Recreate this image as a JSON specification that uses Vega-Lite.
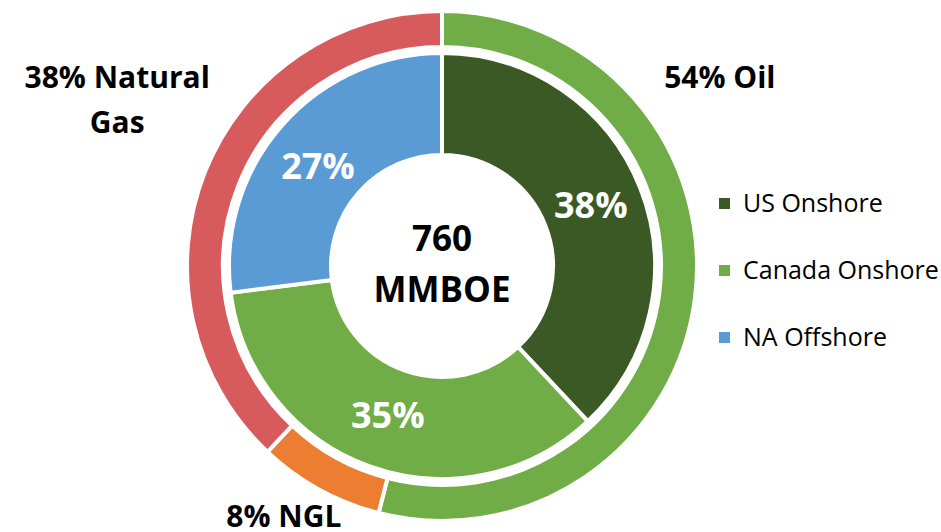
{
  "$schema": "https://vega.github.io/schema/vega-lite/v6.json",
  "width": 884,
  "height": 532,
  "autosize": {"type": "none"},
  "padding": {"left": 0, "top": 0, "right": 57, "bottom": 0},
  "background": "white",
  "config": {
    "view": {"stroke": null},
    "text": {"font": "Open Sans"}
  },
  "datasets": {
    "inner": [
      {"region": "US Onshore", "share": 0.38, "rank": 1},
      {"region": "Canada Onshore", "share": 0.35, "rank": 2},
      {"region": "NA Offshore", "share": 0.27, "rank": 3}
    ],
    "outer": [
      {"product": "Oil", "share": 0.54, "rank": 1, "label": "54% Oil"},
      {"product": "NGL", "share": 0.08, "rank": 2, "label": "8% NGL"},
      {"product": "Natural Gas", "share": 0.38, "rank": 3, "label": "38% Natural\nGas"}
    ],
    "total": [{"label": "760\nMMBOE"}]
  },
  "layer": [
    {
      "data": {"name": "outer"},
      "mark": {"type": "arc", "outerRadius": 255, "innerRadius": 219, "stroke": "white", "strokeWidth": 4},
      "encoding": {
        "theta": {"field": "share", "type": "quantitative", "stack": true},
        "order": {"field": "rank", "type": "quantitative"},
        "color": {
          "field": "product",
          "type": "nominal",
          "scale": {"domain": ["Oil", "NGL", "Natural Gas"], "range": ["#70AD47", "#ED7D31", "#D75B5D"]},
          "legend": null
        }
      }
    },
    {
      "data": {"name": "inner"},
      "mark": {"type": "arc", "outerRadius": 213, "innerRadius": 111, "stroke": "white", "strokeWidth": 4},
      "encoding": {
        "theta": {"field": "share", "type": "quantitative", "stack": true},
        "order": {"field": "rank", "type": "quantitative"},
        "color": {
          "field": "region",
          "type": "nominal",
          "scale": {"domain": ["US Onshore", "Canada Onshore", "NA Offshore"], "range": ["#3A5924", "#70AD47", "#5B9BD5"]},
          "legend": {
            "orient": "none",
            "legendX": 712,
            "legendY": 191,
            "title": null,
            "symbolType": "square",
            "symbolSize": 121,
            "symbolStrokeWidth": 0,
            "labelFont": "Open Sans",
            "labelFontSize": 25,
            "labelColor": "#000000",
            "labelLimit": 400,
            "rowPadding": 41,
            "labelOffset": 6,
            "padding": 0,
            "direction": "vertical"
          }
        }
      }
    },
    {
      "data": {"name": "inner"},
      "mark": {"type": "text", "radius": 160, "fontSize": 36, "fontWeight": "bold", "fill": "white", "align": "center", "baseline": "middle"},
      "encoding": {
        "theta": {"field": "share", "type": "quantitative", "stack": true},
        "order": {"field": "rank", "type": "quantitative"},
        "detail": {"field": "region", "type": "nominal"},
        "text": {"condition": {"test": "datum.region !== 'NA Offshore'", "field": "share", "format": ".0%"}, "value": ""}
      }
    },
    {
      "data": {"name": "inner"},
      "mark": {"type": "text", "radius": 160, "dx": -4, "dy": 8, "fontSize": 36, "fontWeight": "bold", "fill": "white", "align": "center", "baseline": "middle"},
      "encoding": {
        "theta": {"field": "share", "type": "quantitative", "stack": true},
        "order": {"field": "rank", "type": "quantitative"},
        "detail": {"field": "region", "type": "nominal"},
        "text": {"condition": {"test": "datum.region === 'NA Offshore'", "field": "share", "format": ".0%"}, "value": ""}
      }
    },
    {
      "data": {"name": "outer"},
      "mark": {"type": "text", "radius": 280, "dx": 0, "dy": -222, "fontSize": 30, "fontWeight": "bold", "fill": "#000000", "align": "center", "baseline": "middle"},
      "encoding": {
        "theta": {"field": "share", "type": "quantitative", "stack": true},
        "order": {"field": "rank", "type": "quantitative"},
        "detail": {"field": "product", "type": "nominal"},
        "text": {"condition": {"test": "datum.product === 'Oil'", "field": "label"}, "value": ""}
      }
    },
    {
      "data": {"name": "outer"},
      "mark": {"type": "text", "radius": 295, "dx": -16, "dy": -7, "fontSize": 30, "fontWeight": "bold", "fill": "#000000", "align": "center", "baseline": "middle"},
      "encoding": {
        "theta": {"field": "share", "type": "quantitative", "stack": true},
        "order": {"field": "rank", "type": "quantitative"},
        "detail": {"field": "product", "type": "nominal"},
        "text": {"condition": {"test": "datum.product === 'NGL'", "field": "label"}, "value": ""}
      }
    },
    {
      "data": {"name": "outer"},
      "mark": {"type": "text", "radius": 330, "dx": -18, "dy": -66, "lineBreak": "\n", "lineHeight": 45, "fontSize": 30, "fontWeight": "bold", "fill": "#000000", "align": "center", "baseline": "middle"},
      "encoding": {
        "theta": {"field": "share", "type": "quantitative", "stack": true},
        "order": {"field": "rank", "type": "quantitative"},
        "detail": {"field": "product", "type": "nominal"},
        "text": {"condition": {"test": "datum.product === 'Natural Gas'", "field": "label"}, "value": ""}
      }
    },
    {
      "data": {"name": "total"},
      "mark": {"type": "text", "dy": -26, "lineBreak": "\n", "lineHeight": 51, "fontSize": 35, "fontWeight": "bold", "fill": "#000000", "align": "center", "baseline": "middle"},
      "encoding": {
        "text": {"field": "label", "type": "nominal"}
      }
    }
  ],
  "resolve": {"scale": {"color": "independent"}}
}
